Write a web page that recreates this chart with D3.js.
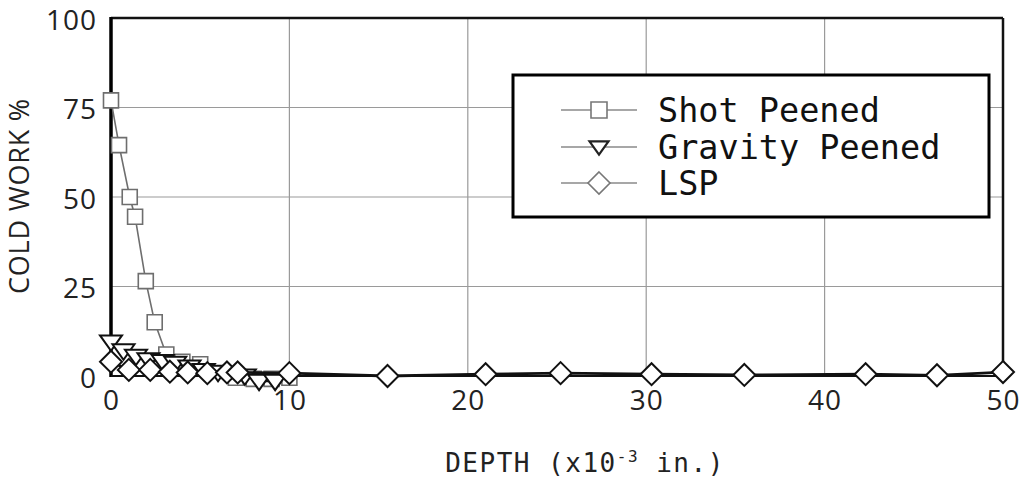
<!DOCTYPE html>
<html><head><meta charset="utf-8">
<script src="https://cdn.jsdelivr.net/npm/d3@7"></script>
<style>body{margin:0;background:#fff}svg{display:block}</style>
</head><body>
<svg id="c" width="1024" height="481"></svg>
<script>
const xTicks = [0, 10, 20, 30, 40, 50];
const yTicks = [0, 25, 50, 75, 100];
const seriesNames = ["Shot Peened", "Gravity Peened", "LSP"];
const shotX = [0, 0.45, 1.05, 1.35, 1.95, 2.45, 3.1, 4.0, 5.0, 7.0, 8.0, 9.0, 10.0];
const shotY = [77, 64.5, 50, 44.5, 26.5, 15, 6, 4, 3.3, -0.5, -0.8, -0.8, -0.5];
const gravX = [0, 0.7, 1.4, 2.1, 2.9, 3.6, 4.4, 5.2, 6.0, 7.5, 8.3, 9.2];
const gravY = [9.5, 7, 5.5, 4.5, 4, 3.5, 2.5, 1.5, 1, 0, -1.5, -1.5];
const lspX = [0, 1.0, 2.2, 3.3, 4.3, 5.4, 6.5, 7.1, 10, 15.5, 21, 25.2, 30.3, 35.5, 42.3, 46.3, 50];
const lspY = [4, 1.7, 1.7, 1.2, 1, 0.8, 1, 1, 0.8, 0, 0.5, 0.8, 0.5, 0.3, 0.5, 0.2, 1.1];

const svg = d3.select("#c");
const L = 111, R = 1003, T = 18, B = 376;
const x = d3.scaleLinear().domain([0, 50]).range([L, R]);
const y = d3.scaleLinear().domain([0, 100]).range([B, T]);

// grid
svg.append("g").selectAll("line").data(xTicks.slice(1, -1)).join("line")
  .attr("x1", d => x(d)).attr("x2", d => x(d)).attr("y1", T).attr("y2", B)
  .attr("stroke", "#9a9a9a").attr("stroke-width", 1.2);
svg.append("g").selectAll("line").data(yTicks.slice(1, -1)).join("line")
  .attr("x1", L).attr("x2", R).attr("y1", d => y(d)).attr("y2", d => y(d))
  .attr("stroke", "#9a9a9a").attr("stroke-width", 1.2);

// axes via d3
const xAxis = svg.append("g").attr("transform", `translate(0,${B})`)
  .call(d3.axisBottom(x).tickValues(xTicks).tickSize(0).tickPadding(14));
xAxis.select(".domain").remove();
xAxis.selectAll("text").attr("font-family", "Open Sans").attr("font-size", 28)
  .attr("fill", "#222").attr("letter-spacing", 1);
const yAxis = svg.append("g").attr("transform", `translate(${L},0)`)
  .call(d3.axisLeft(y).tickValues(yTicks).tickSize(0).tickPadding(14));
yAxis.select(".domain").remove();
yAxis.selectAll("text").attr("font-family", "Open Sans").attr("font-size", 28)
  .attr("fill", "#222").attr("letter-spacing", 1).attr("dy", "0.4em");

// frame
svg.append("line").attr("x1", L).attr("x2", R).attr("y1", T).attr("y2", T).attr("stroke", "#111").attr("stroke-width", 2.5);
svg.append("line").attr("x1", R).attr("x2", R).attr("y1", T).attr("y2", B).attr("stroke", "#111").attr("stroke-width", 2.5);
svg.append("line").attr("x1", L).attr("x2", L).attr("y1", T - 1).attr("y2", B + 1).attr("stroke", "#000").attr("stroke-width", 3.5);
svg.append("line").attr("x1", L).attr("x2", R).attr("y1", B).attr("y2", B).attr("stroke", "#111").attr("stroke-width", 2);

const sym = {
  square: s => `M${-s},${-s}H${s}V${s}H${-s}Z`,
  tri: s => `M${-s},${-s * 0.6}H${s}L0,${s * 0.8}Z`,
  diamond: s => `M0,${-s}L${s},0L0,${s}L${-s},0Z`
};

function series(xs, ys, lineColor, lw, markColor, shape, size, mw) {
  const pts = xs.map((d, i) => [d, ys[i]]);
  svg.append("path").datum(pts)
    .attr("d", d3.line().x(d => x(d[0])).y(d => y(d[1])))
    .attr("fill", "none").attr("stroke", lineColor).attr("stroke-width", lw);
  svg.append("g").selectAll("path").data(pts).join("path")
    .attr("transform", d => `translate(${x(d[0])},${y(d[1])})`)
    .attr("d", sym[shape](size))
    .attr("fill", "#fff").attr("stroke", markColor).attr("stroke-width", mw);
}
series(shotX, shotY, "#6e6e6e", 1.6, "#6e6e6e", "square", 7.5, 1.6);
series(gravX, gravY, "#111", 1.6, "#111", "tri", 11, 2);
series(lspX, lspY, "#111", 2.8, "#111", "diamond", 11, 2);

// legend
const lg = svg.append("g");
lg.append("rect").attr("x", 513).attr("y", 75).attr("width", 476).attr("height", 142)
  .attr("fill", "#fff").attr("stroke", "#000").attr("stroke-width", 3);
const shapes = ["square", "tri", "diamond"], sizes = [8, 9.5, 11];
const rowsY = [110, 147, 183];
seriesNames.forEach((n, i) => {
  lg.append("line").attr("x1", 561).attr("x2", 637).attr("y1", rowsY[i]).attr("y2", rowsY[i])
    .attr("stroke", "#8a8a8a").attr("stroke-width", 1.5);
  lg.append("path").attr("transform", `translate(599,${rowsY[i]})`).attr("d", sym[shapes[i]](sizes[i]))
    .attr("fill", "#fff").attr("stroke", i === 1 ? "#222" : "#777").attr("stroke-width", i === 1 ? 2.2 : 1.6);
  lg.append("text").attr("x", 658).attr("y", rowsY[i]).attr("dy", "0.35em")
    .attr("font-family", "DejaVu Sans Mono").attr("font-size", 33.5).attr("fill", "#111").text(n);
});

// axis titles
const xt = svg.append("text").attr("x", 585).attr("y", 472).attr("text-anchor", "middle")
  .attr("font-family", "DejaVu Sans Mono").attr("font-size", 26).attr("letter-spacing", 1.5).attr("fill", "#222");
xt.append("tspan").text("DEPTH (x10");
xt.append("tspan").attr("dy", -10).attr("font-size", 16).text("-3");
xt.append("tspan").attr("dy", 10).text(" in.)");
svg.append("text").attr("transform", "translate(29,196) rotate(-90)").attr("text-anchor", "middle")
  .attr("font-family", "Open Sans").attr("font-size", 27).attr("letter-spacing", 0.8).attr("fill", "#222")
  .text("COLD WORK %");
</script>
</body></html>
